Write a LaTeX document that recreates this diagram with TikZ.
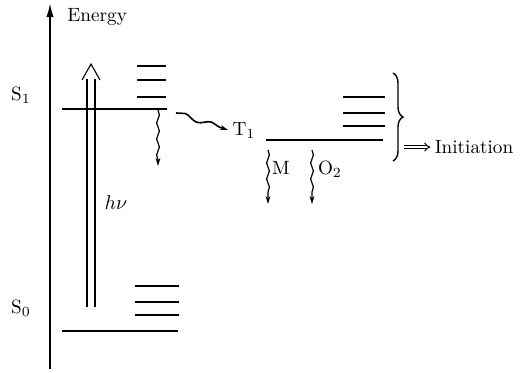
\documentclass[tikz,border=0pt]{standalone}
\usetikzlibrary{arrows.meta,decorations.pathmorphing,decorations.pathreplacing}
\begin{document}
\begin{tikzpicture}[x=0.5pt,y=-0.5pt,
  level/.style={line width=0.85pt},
  thinl/.style={line width=0.55pt},
  wavy/.style={line width=0.6pt, decorate,
    decoration={snake, amplitude=0.7pt, segment length=8pt, post length=3pt},
    -{Stealth[length=4pt,width=2.4pt]}},
  lab/.style={inner sep=0pt, font=\fontsize{9.6}{11}\selectfont}]
\useasboundingbox (0,0) rectangle (525,372);
% energy axis
\coordinate (axb) at (50,369);
\coordinate (axt) at (50,3);
\draw[line width=0.9pt, -{Latex[length=7pt,width=3.6pt]}] (axb) -- (axt);
\node[lab, anchor=west] (energy) at (67,17) {Energy};
% labels
\node[lab] (s1) at (21,95) {S$_1$};
\node[lab] (s0) at (21,308) {S$_0$};
\node[lab] (t1) at (244,130) {T$_1$};
\node[lab] (hnu) at (116,203) {$h\nu$};
\node[lab] (m) at (281,168) {M};
\node[lab] (o2) at (330,169) {O$_2$};
\node[lab] (init) at (474,147) {Initiation};
% S1 levels
\coordinate (s1a) at (62,109); \coordinate (s1b) at (167,109);
\draw[level] (s1a) -- (s1b);
\foreach \y in {66,80,97} \draw[level] (137,\y) -- (166,\y);
% S0 levels
\coordinate (s0a) at (62,331); \coordinate (s0b) at (178,331);
\draw[level] (s0a) -- (s0b);
\foreach \y in {286,302,315} \draw[level] (135,\y) -- (179,\y);
% T1 levels
\coordinate (t1a) at (266,140); \coordinate (t1b) at (383,140);
\draw[level] (t1a) -- (t1b);
\foreach \y in {97,113,126} \draw[level] (343,\y) -- (385,\y);
% h nu absorption arrow (open double arrow)
\coordinate (hb1) at (87,307); \coordinate (ht1) at (87,79);
\coordinate (hb2) at (95,307); \coordinate (ht2) at (95,79);
\draw[thinl] (hb1) -- (ht1);
\draw[thinl] (hb2) -- (ht2);
\coordinate (hl) at (82,80); \coordinate (htip) at (91,64); \coordinate (hr) at (100,80);
\draw[thinl] (hl) -- (htip) -- (hr);
% wavy decays
\coordinate (w1a) at (158,110); \coordinate (w1b) at (158,166);
\draw[wavy] (w1a) -- (w1b);
\coordinate (isc) at (176,113);
\draw[wavy, line width=0.8pt, decoration={snake, amplitude=1.2pt, segment length=14pt, post length=3pt}] (isc) -- ([xshift=-2pt]t1.west);
\coordinate (wma) at (268,150); \coordinate (wmb) at (268,204);
\draw[wavy] (wma) -- (wmb);
\coordinate (woa) at (312,150); \coordinate (wob) at (312,204);
\draw[wavy] (woa) -- (wob);
% brace
\coordinate (bt) at (393,73); \coordinate (bb) at (393,161);
\draw[line width=0.7pt, decorate, decoration={brace, amplitude=5pt}] (bt) -- (bb);
\coordinate (arrs) at (404,147);
\draw[line width=0.5pt, double, double distance=1pt, -{Implies}] (arrs) -- ([xshift=-2pt]init.west);
\end{tikzpicture}
\end{document}
